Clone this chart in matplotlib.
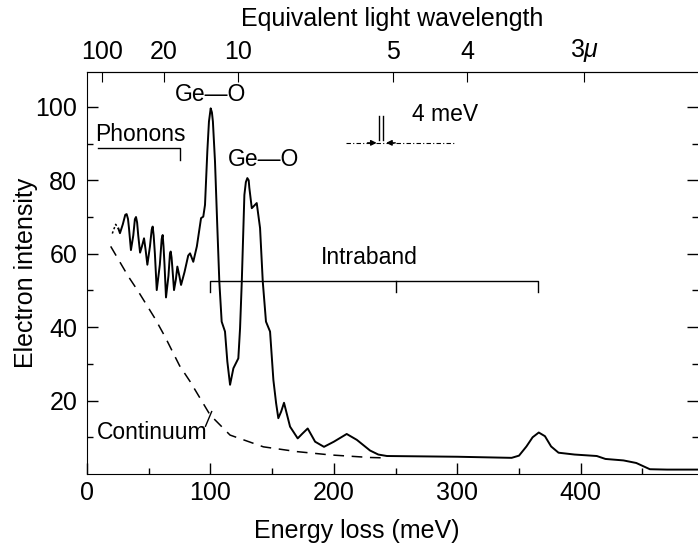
import matplotlib
matplotlib.use("Agg")
import matplotlib.pyplot as plt
import numpy as np

plt.rcParams['font.family'] = ['Liberation Sans', 'DejaVu Sans']
plt.rcParams['mathtext.fontset'] = 'custom'
plt.rcParams['mathtext.it'] = 'Liberation Sans:italic'

# measured spectrum (energy loss in meV, intensity)
dotted_x = [20.5, 23.2, 25.5]
dotted_y = [65.5, 68.0, 66.8]

spec_x = [25.5, 26.7, 29, 31, 32.1, 33.2, 34, 35.6, 37.5, 38.8, 39.7, 40.6, 41.5, 43, 44.5,
          46.2, 47.5, 48.9, 51, 52.4, 53.2, 54, 55, 56.5, 59, 60.5, 61.3, 62, 62.8, 64, 66,
          67.2, 67.8, 68.5, 69.2, 70.5, 72, 73.2, 74.8, 76.2, 79, 82, 83.5, 86.1, 89, 92.4,
          94.2, 95.6, 97.5, 98.8, 100.2, 101.2, 102, 103.7, 105.5, 107.2, 109.1, 111.8,
          113.7, 115.9, 118.6, 122.6, 124, 125.4, 127.5, 128.7, 129.9, 131, 131.5, 133.5,
          137.5, 140.2, 142.4, 145, 148.3, 151, 153.2, 155, 157.3, 159.6, 164.5, 170.7,
          174.5, 178.8, 184.8, 192, 200, 210.4, 218.6, 229.3, 236, 243, 300, 344, 350, 356,
          361, 366, 371, 376, 382, 395, 413, 420, 434.6, 445, 456, 470, 495]
spec_y = [66.8, 65.6, 68, 70.6, 70.8, 69.5, 67, 61, 65, 69.4, 70, 68.5, 65, 60.3, 62,
          64.2, 61, 57, 62, 66.5, 67.4, 65, 60, 50.1, 57, 64, 65.1, 62, 57, 48.1, 54,
          60, 60.6, 59, 56, 50.1, 53, 56.5, 54, 51.5, 55, 59.5, 60.1, 57.8, 62, 69.7,
          70.1, 73.3, 88, 96, 99.6, 98.5, 96, 85.1, 68, 52.4, 41.5, 38.8,
          30.6, 24.3, 28.8, 31.5, 39.7, 52.4, 76, 79.5, 80.6, 80, 78, 72.4,
          73.8, 67, 52.4, 41.5, 38.8, 25.6, 19.3, 15.2, 17, 19.4, 12.9, 9.7,
          11, 12.4, 8.8, 7.4, 8.8, 10.9, 9.3, 6.4, 5.3, 4.9, 4.7, 4.4, 5.0, 7.5,
          10.0, 11.3, 10.3, 7.5, 5.8, 5.3, 4.9, 4.1, 3.7, 3.0, 1.3, 1.2, 1.2]

# continuum background
cont_x = [19.2, 33.5, 41.6, 55, 63.2, 75, 83.5, 99.7, 115.9, 142.9, 170, 197, 229, 240]
cont_y = [62, 53.8, 49.7, 42.4, 37.4, 29.5, 25.2, 16.1, 10.6, 7.4, 6.1, 5.2, 4.5, 4.4]

# top axis: equivalent wavelength ticks
top_tick_energy = [12, 62, 122, 248, 308, 403]
top_tick_labels = ['100', '20', '10', '5', '4', '3$\\mu$']

# bracket ranges
phonon_range = [9, 75]
intraband_range = [100, 365]
intraband_mid = 250

fig = plt.figure(figsize=(6.98, 5.43), dpi=100)
ax = fig.add_axes([87 / 698, 69 / 543, 1 - 87 / 698, (474 - 72) / 543])

ax.plot(spec_x, spec_y, color='black', lw=1.4, solid_joinstyle='round')
ax.plot(dotted_x, dotted_y, color='black', lw=1.1, ls=(0, (1.5, 1.5)))
ax.plot(cont_x, cont_y, color='black', lw=1.1, ls=(0, (7, 5)))

ax.set_xlim(0, 495)
ax.set_ylim(0, 109.5)
ax.set_xticks([0, 100, 200, 300, 400])
ax.set_xticks(np.arange(50, 500, 100), minor=True)
ax.set_yticks([20, 40, 60, 80, 100])
ax.set_yticks(np.arange(10, 110, 20), minor=True)
ax.tick_params(which='both', direction='in', right=True, top=False, labelsize=18, width=1)
ax.tick_params(which='major', length=8)
ax.tick_params(axis='x', which='major', pad=5)
ax.tick_params(axis='y', which='major', pad=7)
ax.tick_params(which='minor', length=4)
ax.spines['right'].set_visible(False)
ax.set_xlabel('Energy loss (meV)', fontsize=18)
ax.xaxis.set_label_coords(0.442, -0.112)
ax.set_ylabel('Electron intensity', fontsize=18, labelpad=-2)

top = ax.secondary_xaxis('top')
top.set_xticks(top_tick_energy, labels=top_tick_labels)
top.tick_params(direction='in', length=7, labelsize=18, pad=6)
top.set_xlabel('Equivalent light wavelength', fontsize=18, labelpad=8)

# annotations
ax.text(100, 103.3, 'Ge—O', fontsize=16.5, ha='center', va='center')
ax.text(143, 85.6, 'Ge—O', fontsize=16.5, ha='center', va='center')
ax.text(6.5, 92.4, 'Phonons', fontsize=16.5, ha='left', va='center')
ax.plot([phonon_range[0], phonon_range[1], phonon_range[1]], [88.7, 88.7, 85.6],
        color='black', lw=1)
ax.text(229, 58.9, 'Intraband', fontsize=16.5, ha='center', va='center')
ax.plot([intraband_range[0], intraband_range[0], intraband_range[1], intraband_range[1]],
        [49.5, 52.6, 52.6, 49.5], color='black', lw=1)
ax.plot([intraband_mid, intraband_mid], [52.6, 49.5], color='black', lw=1)
ax.text(8, 11.2, 'Continuum', fontsize=16.5, ha='left', va='center')
ax.plot([96, 101], [13, 17], color='black', lw=1)

# 4 meV resolution marker
ax.plot([210, 298], [90.2, 90.2], color='black', lw=0.8, ls=(0, (4, 2, 1, 2)))
ax.plot([236.9, 236.9], [91.0, 97.4], color='black', lw=1)
ax.plot([240.1, 240.1], [91.0, 97.4], color='black', lw=1)
ax.annotate('', xy=(236.9, 90.2), xytext=(225, 90.2),
            arrowprops=dict(arrowstyle='-|>', color='black', lw=1, mutation_scale=8))
ax.annotate('', xy=(240.1, 90.2), xytext=(252, 90.2),
            arrowprops=dict(arrowstyle='-|>', color='black', lw=1, mutation_scale=8))
ax.text(263, 97.8, '4 meV', fontsize=16.5, ha='left', va='center')

fig.savefig('out.png', dpi=100)
